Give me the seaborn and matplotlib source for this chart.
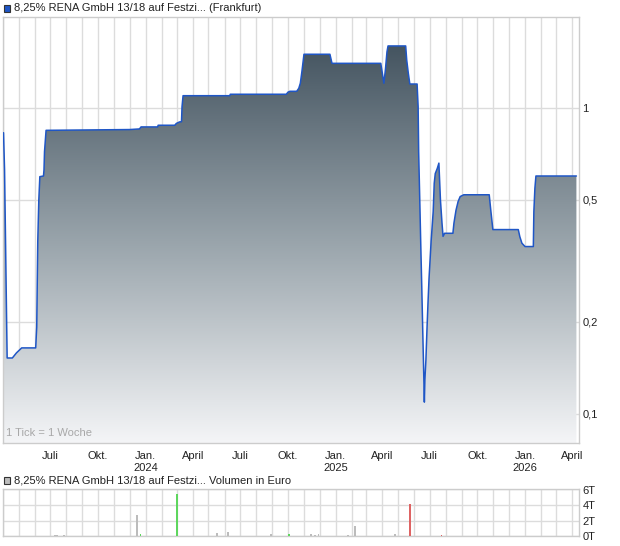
import matplotlib
matplotlib.use("Agg")
import matplotlib.pyplot as plt
import matplotlib.dates as mdates
import matplotlib.ticker as mticker
from matplotlib.colors import LinearSegmentedColormap
from matplotlib.patches import Rectangle
import numpy as np
import pandas as pd
import seaborn as sns

kurs_datum = [
    "2023-04-02", "2023-04-04", "2023-04-06", "2023-04-08", "2023-04-09",
    "2023-04-19", "2023-04-27", "2023-05-07", "2023-06-03", "2023-06-05",
    "2023-06-06", "2023-06-07", "2023-06-09", "2023-06-11", "2023-06-18",
    "2023-06-19", "2023-06-20", "2023-06-23", "2023-12-01", "2023-12-20",
    "2023-12-23", "2024-01-24", "2024-01-25", "2024-02-26", "2024-02-29",
    "2024-03-06", "2024-03-10", "2024-03-11", "2024-03-13", "2024-06-11",
    "2024-06-12", "2024-09-28", "2024-10-01", "2024-10-05", "2024-10-18",
    "2024-10-22", "2024-10-25", "2024-10-28", "2024-11-01", "2024-12-21",
    "2024-12-25", "2025-03-29", "2025-04-04", "2025-04-07", "2025-04-10",
    "2025-04-12", "2025-05-16", "2025-05-18", "2025-05-21", "2025-05-24",
    "2025-06-07", "2025-06-09", "2025-06-10", "2025-06-12", "2025-06-14",
    "2025-06-16", "2025-06-18", "2025-06-20", "2025-06-21", "2025-06-22",
    "2025-06-24", "2025-06-26", "2025-06-28", "2025-06-30", "2025-07-02",
    "2025-07-04", "2025-07-06", "2025-07-08", "2025-07-10", "2025-07-12",
    "2025-07-16", "2025-07-19", "2025-07-22", "2025-07-25", "2025-07-27",
    "2025-07-30", "2025-08-15", "2025-08-17", "2025-08-21", "2025-08-25",
    "2025-08-29", "2025-09-05", "2025-10-24", "2025-10-27", "2025-10-31",
    "2025-12-19", "2025-12-22", "2025-12-26", "2026-01-01", "2026-01-17",
    "2026-01-18", "2026-01-20", "2026-01-22", "2026-04-10",
]
kurs_wert = [
    0.830, 0.627, 0.356, 0.200, 0.152,
    0.152, 0.158, 0.164, 0.164, 0.192,
    0.268, 0.366, 0.500, 0.596, 0.599,
    0.627, 0.720, 0.845, 0.850, 0.854,
    0.867, 0.867, 0.878, 0.878, 0.890,
    0.900, 0.902, 1.010, 1.097, 1.097,
    1.109, 1.109, 1.126, 1.134, 1.134,
    1.160, 1.205, 1.315, 1.499, 1.499,
    1.400, 1.400, 1.205, 1.339, 1.529,
    1.596, 1.596, 1.436, 1.302, 1.198,
    1.198, 1.010, 0.720, 0.513, 0.362,
    0.260, 0.183, 0.130, 0.109, 0.129,
    0.150, 0.188, 0.230, 0.277, 0.318,
    0.366, 0.409, 0.458, 0.567, 0.610,
    0.635, 0.660, 0.500, 0.420, 0.380,
    0.389, 0.389, 0.420, 0.463, 0.494,
    0.513, 0.520, 0.520, 0.463, 0.400,
    0.400, 0.379, 0.361, 0.352, 0.352,
    0.458, 0.546, 0.599, 0.599,
]

# --- Volumen in Tausend Euro ---
vol_datum = [
    "2023-05-07", "2023-05-26", "2023-07-10", "2023-07-14", "2023-07-27",
    "2023-12-16", "2023-12-22", "2024-01-12", "2024-02-02", "2024-02-10",
    "2024-03-02", "2024-05-18", "2024-06-01", "2024-06-07", "2024-07-17",
    "2024-08-30", "2024-09-06", "2024-09-26", "2024-10-04", "2024-11-15",
    "2024-11-22", "2024-11-29", "2025-01-15", "2025-01-24", "2025-02-07",
    "2025-02-15", "2025-03-21", "2025-04-25", "2025-05-24", "2025-06-20",
    "2025-07-24", "2025-08-07", "2025-08-14", "2025-08-22", "2025-09-26",
    "2025-10-19", "2025-10-22", "2025-11-14", "2025-11-20", "2025-11-27",
    "2025-12-04", "2026-01-17", "2026-02-22",
]
vol_wert = [
    0.05, 0.03, 0.15, 0.20, 0.20,
    2.75, 0.30, 0.05, 0.05, 0.05,
    5.45, 0.47, 0.05, 0.60, 0.03,
    0.30, 0.10, 0.10, 0.35, 0.35,
    0.20, 0.35, 0.05, 0.20, 1.38,
    0.05, 0.03, 0.35, 4.20, 0.10,
    0.20, 0.05, 0.05, 0.05, 0.03,
    0.03, 0.03, 0.03, 0.03, 0.03,
    0.03, 0.03, 0.03,
]
vol_richtung = [
    "up", "na", "na", "na", "na",
    "na", "up", "na", "na", "na",
    "up", "na", "na", "na", "na",
    "na", "na", "na", "up", "na",
    "na", "na", "na", "na", "na",
    "na", "na", "na", "down", "down",
    "down", "na", "na", "up", "na",
    "na", "na", "na", "na", "na",
    "na", "na", "na",
]

y_ticks = [0.1, 0.2, 0.5, 1]
y_labels = ["0,1", "0,2", "0,5", "1"]
vol_ticks = [0, 2, 4, 6]
vol_labels = ["0T", "2T", "4T", "6T"]
monat_namen = {1: "Jan.", 4: "April", 7: "Juli", 10: "Okt."}

farben = {"up": "#5ed65e", "down": "#de6464", "na": "#bcbcbc"}
GRID = "#dcdcdc"
RAHMEN = "#cccccc"
LINIE = "#1f56c6"

sns.set_style("white")
plt.rcParams['font.family'] = ['Liberation Sans', 'DejaVu Sans']
plt.rcParams['font.size'] = 8

W, H = 620, 546
fig = plt.figure(figsize=(W / 100, H / 100), dpi=100)
ax = fig.add_axes([3 / W, 1 - 443 / H, 576 / W, 426 / H])
axv = fig.add_axes([3 / W, 1 - 536.3 / H, 576 / W, 46.8 / H])

x_von = pd.Timestamp("2023-04-01")
x_bis = pd.Timestamp("2026-04-15")

df = pd.DataFrame({"datum": pd.to_datetime(kurs_datum), "kurs": kurs_wert})

# --- Kurschart ---
ax.set_yscale("log")
flaeche = ax.fill_between(df["datum"], df["kurs"], 0.01, color="none", lw=0)

# Farbverlauf unter der Kurve
cmap = LinearSegmentedColormap.from_list("verlauf", ["#f4f5f7", "#9aa5ac", "#445460"])
grad = np.linspace(0, 1, 256).reshape(-1, 1)
img = ax.imshow(grad, cmap=cmap, aspect="auto", origin="lower",
                extent=[0, 1, 0, 0.935], transform=ax.transAxes, zorder=2)
img.set_clip_path(flaeche.get_paths()[0], transform=flaeche.get_transform())

sns.lineplot(data=df, x="datum", y="kurs", ax=ax, color=LINIE, lw=1.1,
             zorder=3, sort=False, estimator=None)

ax.set_xlim(x_von, x_bis)
ax.set_ylim(0.0801, 1.985)
ax.set_xlabel("")
ax.set_ylabel("")


def monat_label(v, pos=None):
    d = mdates.num2date(v)
    if d.month not in monat_namen or d < pd.Timestamp("2023-05-01", tz="UTC"):
        return ""
    if d.month == 1:
        return f"Jan.\n{d.year}"
    return monat_namen[d.month]


for a in (ax, axv):
    a.xaxis.set_major_locator(mdates.MonthLocator())
    a.xaxis.set_minor_locator(mdates.WeekdayLocator(byweekday=mdates.MO))
    a.grid(True, which="major", axis="both", color=GRID, lw=1)
    a.set_axisbelow(True)
    for s in a.spines.values():
        s.set_color(RAHMEN)
        s.set_linewidth(1)
    a.yaxis.tick_right()
    a.tick_params(axis="y", length=0, pad=2.5, labelsize=8, labelcolor="#222222")
    a.tick_params(axis="x", which="major", length=3, color=RAHMEN, direction="out")
    a.tick_params(axis="x", which="minor", length=2, color=RAHMEN, direction="out")

ax.xaxis.set_major_formatter(mticker.FuncFormatter(monat_label))
ax.tick_params(axis="x", which="major", labelsize=8, pad=3, labelcolor="#222222")
ax.yaxis.set_major_locator(mticker.FixedLocator(y_ticks))
ax.yaxis.set_major_formatter(mticker.FixedFormatter(y_labels))
ax.yaxis.set_minor_locator(mticker.NullLocator())

ax.text(0.006, 0.012, "1 Tick = 1 Woche", transform=ax.transAxes,
        fontsize=8, color="#a8a8a8", ha="left", va="bottom", zorder=4)

# --- Volumen ---
axv.bar(pd.to_datetime(vol_datum), vol_wert, width=3.8,
        color=[farben[r] for r in vol_richtung], zorder=3, lw=0)
axv.set_xlim(x_von, x_bis)
axv.set_ylim(0, 6)
axv.yaxis.set_major_locator(mticker.FixedLocator(vol_ticks))
axv.yaxis.set_major_formatter(mticker.FixedFormatter(vol_labels))
axv.xaxis.set_major_formatter(mticker.NullFormatter())
axv.tick_params(axis="x", which="both", length=0)

# --- Legenden-Titel ---
fig.patches.append(Rectangle((3.5 / W, 1 - 11.5 / H), 7 / W, 7 / H, transform=fig.transFigure,
                             facecolor="#1f56c6", edgecolor="#333333", lw=0.8))
fig.text(14 / W, 1 - 8 / H, "8,25% RENA GmbH 13/18 auf Festzi... (Frankfurt)",
         fontsize=8, va="center", ha="left", color="#222222")
fig.patches.append(Rectangle((3.5 / W, 1 - 484 / H), 7 / W, 7 / H, transform=fig.transFigure,
                             facecolor="#bcbcbc", edgecolor="#333333", lw=0.8))
fig.text(14 / W, 1 - 480.5 / H, "8,25% RENA GmbH 13/18 auf Festzi... Volumen in Euro",
         fontsize=8, va="center", ha="left", color="#222222")

fig.savefig("out.png", dpi=100)
